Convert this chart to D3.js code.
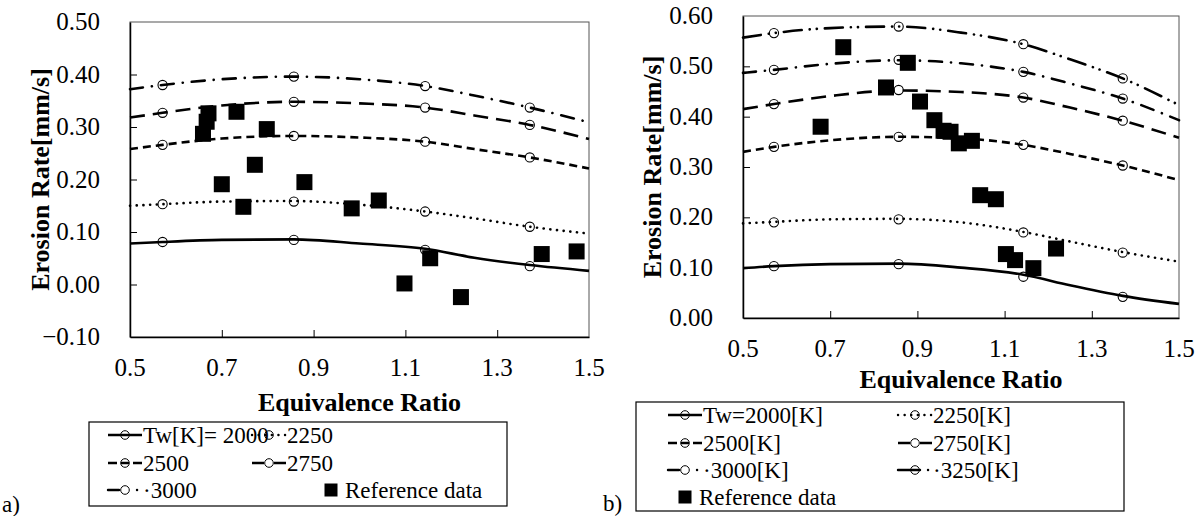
<!DOCTYPE html>
<html><head><meta charset="utf-8">
<script src="https://cdn.jsdelivr.net/npm/d3@7"></script>
</head><body style="margin:0">
<svg id="c" width="1202" height="516"></svg>
<script>
// ---------- data ----------
const phiGrid = [0.5, 0.571, 0.7, 0.857, 1.0, 1.143, 1.25, 1.371, 1.5];
const markerPhi = [0.571, 0.857, 1.143, 1.371];
const xTicks = [0.5, 0.7, 0.9, 1.1, 1.3, 1.5];
const yTicksA = [-0.1, 0, 0.1, 0.2, 0.3, 0.4, 0.5];
const yTicksB = [0, 0.1, 0.2, 0.3, 0.4, 0.5, 0.6];

// chart a) curves (read along the lines)
const curveA2000 = [0.078, 0.081, 0.085, 0.086, 0.078, 0.068, 0.051, 0.037, 0.026];
const curveA2250 = [0.150, 0.153, 0.158, 0.159, 0.152, 0.139, 0.126, 0.110, 0.097];
const curveA2500 = [0.258, 0.266, 0.278, 0.283, 0.280, 0.272, 0.258, 0.242, 0.221];
const curveA2750 = [0.318, 0.327, 0.341, 0.348, 0.345, 0.337, 0.322, 0.304, 0.277];
const curveA3000 = [0.372, 0.380, 0.391, 0.396, 0.391, 0.378, 0.360, 0.337, 0.309];
// chart a) circle markers
const markA2000 = [0.081, 0.085, 0.066, 0.035];
const markA2250 = [0.153, 0.158, 0.139, 0.110];
const markA2500 = [0.266, 0.283, 0.272, 0.242];
const markA2750 = [0.327, 0.348, 0.337, 0.304];
const markA3000 = [0.380, 0.396, 0.378, 0.337];
// chart a) reference data
const refAphi = [0.659, 0.667, 0.671, 0.700, 0.732, 0.747, 0.772, 0.798, 0.880, 0.983, 1.042, 1.098, 1.154, 1.221, 1.397, 1.473];
const refAval = [0.287, 0.310, 0.326, 0.191, 0.329, 0.148, 0.228, 0.296, 0.195, 0.145, 0.160, 0.002, 0.050, -0.024, 0.058, 0.063];
const legendA = ["Tw[K]= 2000", "2250", "2500", "2750", "·3000", "Reference data"];

// chart b) curves
const curveB2000 = [0.099, 0.103, 0.107, 0.108, 0.100, 0.086, 0.065, 0.044, 0.028];
const curveB2250 = [0.188, 0.191, 0.196, 0.197, 0.190, 0.171, 0.152, 0.131, 0.112];
const curveB2500 = [0.330, 0.340, 0.353, 0.360, 0.357, 0.344, 0.326, 0.303, 0.274];
const curveB2750 = [0.415, 0.425, 0.441, 0.452, 0.449, 0.438, 0.418, 0.392, 0.358];
const curveB3000 = [0.487, 0.493, 0.505, 0.512, 0.506, 0.489, 0.466, 0.436, 0.393];
const curveB3250 = [0.557, 0.566, 0.576, 0.579, 0.567, 0.544, 0.514, 0.476, 0.423];
const markB2000 = [0.103, 0.107, 0.082, 0.042];
const markB2250 = [0.190, 0.196, 0.170, 0.130];
const markB2500 = [0.340, 0.360, 0.344, 0.303];
const markB2750 = [0.425, 0.453, 0.438, 0.392];
const markB3000 = [0.493, 0.513, 0.489, 0.436];
const markB3250 = [0.566, 0.579, 0.544, 0.476];
const refBphi = [0.678, 0.730, 0.828, 0.878, 0.906, 0.939, 0.960, 0.976, 0.995, 1.025, 1.044, 1.080, 1.103, 1.124, 1.166, 1.218];
const refBval = [0.380, 0.538, 0.458, 0.507, 0.430, 0.393, 0.372, 0.370, 0.347, 0.352, 0.244, 0.236, 0.127, 0.115, 0.099, 0.138];
const legendB = ["Tw=2000[K]", "2250[K]", "2500[K]", "2750[K]", "·3000[K]", "·3250[K]", "Reference data"];

// ---------- styles ----------
const FONT = "Liberation Serif";
const lineDash = ["none", "0.1,6.6", "8,5", "15,8", "13,9,0.1,9", "18,8,0.1,7,0.1,8"];
const lineCap = ["butt", "round", "butt", "butt", "round", "round"];
const legDash = ["none", "0.1,6.5", "9,4,8,4,9", "12,10,12", "11,18,0.1,6", "22,8,0.1,6"];

const svg = d3.select("#c");

// plain text, positioned without text-anchor / dy: anchor handled by measuring
function txt(x, y, s, size, anchor, bold, rotate) {
  const t = svg.append("text").attr("font-size", size).attr("font-family", FONT).attr("fill", "#000");
  if (bold) t.attr("font-weight", "bold");
  t.text(s);
  let len = 0;
  try { len = t.node().getComputedTextLength(); } catch (e) { len = s.length * size * 0.5; }
  if (!len) len = s.length * size * 0.5;
  const off = anchor === "middle" ? -len / 2 : anchor === "end" ? -len : 0;
  if (rotate) {
    t.attr("x", off).attr("y", 0).attr("transform", `translate(${x},${y}) rotate(-90)`);
  } else {
    t.attr("x", x + off).attr("y", y);
  }
  return t;
}

function drawChart(cfg) {
  const x = d3.scaleLinear().domain([0.5, 1.5]).range([cfg.left, cfg.right]);
  const y = d3.scaleLinear().domain(cfg.yDomain).range([cfg.bottom, cfg.top]);
  const g = svg.append("g");

  // frame
  g.append("rect").attr("x", cfg.left).attr("y", cfg.top)
    .attr("width", cfg.right - cfg.left).attr("height", cfg.bottom - cfg.top)
    .attr("fill", "none").attr("stroke", "#555").attr("stroke-width", 1);

  // axes: lines and inward ticks from d3 axes; labels as plain texts
  const xAxis = d3.axisBottom(x).tickValues(xTicks).tickSizeInner(-7).tickSizeOuter(0).tickFormat("");
  const ax = g.append("g").attr("transform", `translate(0,${cfg.bottom})`).call(xAxis);
  ax.select(".domain").attr("stroke", "#000").attr("stroke-width", 1.5);
  ax.selectAll(".tick line").attr("stroke", "#000").attr("stroke-width", 1);
  ax.selectAll(".tick").filter(d => d === 0.5 || d === 1.5).select("line").remove();
  ax.selectAll("text").remove();

  const yAxis = d3.axisLeft(y).tickValues(cfg.yTicks).tickSizeInner(-7).tickSizeOuter(0).tickFormat("");
  const ay = g.append("g").attr("transform", `translate(${cfg.left},0)`).call(yAxis);
  ay.select(".domain").attr("stroke", "#000").attr("stroke-width", 1.5);
  ay.selectAll(".tick line").attr("stroke", "#000").attr("stroke-width", 1);
  ay.selectAll(".tick").filter(d => d === cfg.yDomain[0] || d === cfg.yDomain[1]).select("line").remove();
  ay.selectAll("text").remove();

  const fx = d3.format(".1f"), fy = d3.format(".2f");
  xTicks.forEach(v => txt(x(v), cfg.bottom + 39, fx(v), 25, "middle"));
  cfg.yTicks.forEach(v => txt(cfg.left - 30, y(v) + 8, fy(v), 25, "end"));

  // titles
  txt((cfg.left + cfg.right) / 2, cfg.xTitleY, "Equivalence Ratio", 26, "middle", true);
  txt(cfg.yTitleX, (cfg.top + cfg.bottom) / 2, "Erosion Rate[mm/s]", 26, "middle", true, true);

  // curves
  const line = d3.line().x((d, i) => x(phiGrid[i])).y(d => y(d)).curve(d3.curveMonotoneX);
  cfg.curves.forEach((c, i) => {
    g.append("path").attr("d", line(c)).attr("fill", "none").attr("stroke", "#000")
      .attr("stroke-width", 2.6).attr("stroke-dasharray", lineDash[i])
      .attr("stroke-linecap", lineCap[i]);
  });
  // markers
  cfg.marks.forEach((m) => {
    g.selectAll(null).data(m).enter().append("circle")
      .attr("cx", (d, j) => x(markerPhi[j])).attr("cy", d => y(d)).attr("r", 4.6)
      .attr("fill", "none").attr("stroke", "#000").attr("stroke-width", 1.1);
  });
  // reference data
  g.selectAll(null).data(cfg.refVal).enter().append("rect")
    .attr("x", (d, j) => x(cfg.refPhi[j]) - 8).attr("y", d => y(d) - 8)
    .attr("width", 16).attr("height", 16).attr("fill", "#000");

  // legend
  const L = cfg.legend;
  g.append("rect").attr("x", L.x0).attr("y", L.y0).attr("width", L.x1 - L.x0).attr("height", L.y1 - L.y0)
    .attr("fill", "none").attr("stroke", "#000").attr("stroke-width", 1.2);
  cfg.legendLabels.forEach((lab, i) => {
    const isRef = i === cfg.legendLabels.length - 1;
    const col = isRef ? L.refCol : i % 2;
    const row = isRef ? L.refRow : Math.floor(i / 2);
    const sx = L.colX[col];
    const cy = L.rowY[row];
    if (isRef) {
      g.append("rect").attr("x", L.refSqX - 6.5).attr("y", cy - 6.5).attr("width", 13).attr("height", 13).attr("fill", "#000");
      txt(L.refTextX, cy + 7.5, lab, 23, "start");
    } else {
      g.append("line").attr("x1", sx).attr("x2", sx + 34).attr("y1", cy).attr("y2", cy)
        .attr("stroke", "#000").attr("stroke-width", 2.4).attr("stroke-dasharray", legDash[i])
        .attr("stroke-linecap", lineCap[i]);
      g.append("circle").attr("cx", sx + 17).attr("cy", cy).attr("r", 4.3)
        .attr("fill", "none").attr("stroke", "#000").attr("stroke-width", 1);
      txt(sx + 35, cy + 7.5, lab, 23, "start");
    }
  });
  txt(cfg.tag.x, cfg.tag.y, cfg.tag.t, 23, "start");
}

drawChart({
  left: 130, right: 589, top: 22, bottom: 337,
  yDomain: [-0.1, 0.5], yTicks: yTicksA, xTitleY: 411, yTitleX: 49,
  curves: [curveA2000, curveA2250, curveA2500, curveA2750, curveA3000],
  marks: [markA2000, markA2250, markA2500, markA2750, markA3000],
  refPhi: refAphi, refVal: refAval,
  legendLabels: legendA,
  legend: { x0: 89, y0: 422, x1: 507, y1: 506, colX: [108, 252], rowY: [435, 463, 490], refCol: 1, refRow: 2, refSqX: 331, refTextX: 345 },
  tag: { x: 2, y: 512, t: "a)" }
});

drawChart({
  left: 743, right: 1179, top: 16, bottom: 318,
  yDomain: [0, 0.6], yTicks: yTicksB, xTitleY: 388, yTitleX: 661,
  curves: [curveB2000, curveB2250, curveB2500, curveB2750, curveB3000, curveB3250],
  marks: [markB2000, markB2250, markB2500, markB2750, markB3000, markB3250],
  refPhi: refBphi, refVal: refBval,
  legendLabels: legendB,
  legend: { x0: 636, y0: 402, x1: 1124, y1: 511, colX: [668, 898], rowY: [415, 443, 470, 497], refCol: 0, refRow: 3, refSqX: 685, refTextX: 699 },
  tag: { x: 603, y: 511, t: "b)" }
});
</script>
</body></html>
